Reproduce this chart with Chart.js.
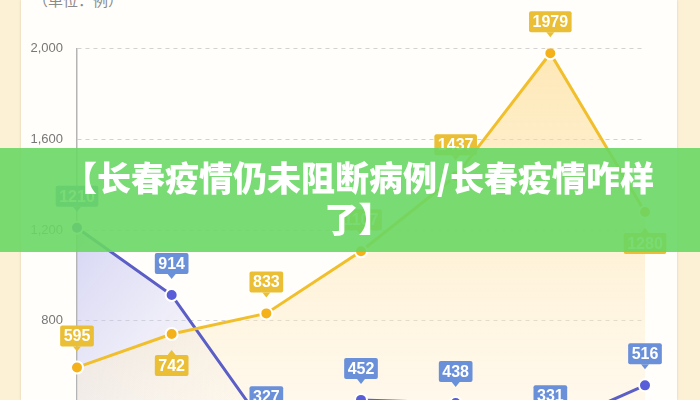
<!DOCTYPE html>
<html>
<head>
<meta charset="utf-8">
<script src="https://cdn.jsdelivr.net/npm/chart.js@4.4.1/dist/chart.umd.min.js"></script>
<style>
html,body{margin:0;padding:0;width:700px;height:400px;overflow:hidden;background:#fcf0d5;}
#panel{position:absolute;left:21px;top:0;width:656px;height:400px;background:#fffefa;box-shadow:0 0 2px rgba(200,175,130,0.6);}
#wrap{position:absolute;left:0;top:0;width:700px;height:540px;}
#unit{position:absolute;left:33px;top:-11px;font-size:15px;font-family:"Noto Sans CJK SC",sans-serif;color:#8a8a8a;}
#banner{position:absolute;left:0;top:148px;width:700px;height:104px;background:rgba(105,215,100,0.9);}
#title{position:absolute;left:0;top:156px;width:717px;text-align:center;color:#fff;font-weight:900;font-size:34px;font-family:"Noto Sans CJK SC",sans-serif;line-height:41px;}
</style>
</head>
<body>
<div id="panel"></div>
<div id="unit">（单位：例）</div>
<div id="wrap"><canvas id="c" width="700" height="540"></canvas></div>
<div id="banner"></div>
<div id="title">【长春疫情仍未阻断病例/长春疫情咋样<br>了】</div>
<script>
const categories = ['第1天', '第2天', '第3天', '第4天', '第5天', '第6天', '第7天'];
const yellowValues = [595, 742, 833, 1107, 1437, 1979, 1280];
const blueValues = [1210, 914, 327, 452, 438, 331, 516];
const yTickStep = 400;
const yMin = 0;
const yMax = 2000;

function roundRect(ctx, x, y, w, h, r) {
  ctx.beginPath();
  ctx.moveTo(x + r, y);
  ctx.lineTo(x + w - r, y);
  ctx.quadraticCurveTo(x + w, y, x + w, y + r);
  ctx.lineTo(x + w, y + h - r);
  ctx.quadraticCurveTo(x + w, y + h, x + w - r, y + h);
  ctx.lineTo(x + r, y + h);
  ctx.quadraticCurveTo(x, y + h, x, y + h - r);
  ctx.lineTo(x, y + r);
  ctx.quadraticCurveTo(x, y, x + r, y);
  ctx.closePath();
}

const calloutPlugin = {
  id: 'callouts',
  afterDatasetsDraw(chart) {
    const ctx = chart.ctx;
    ctx.save();
    chart.data.datasets.forEach((ds, di) => {
      const meta = chart.getDatasetMeta(di);
      meta.data.forEach((pt, i) => {
        const text = String(ds.data[i]);
        const below = (ds.calloutBelow || []).includes(i);
        ctx.font = 'bold 16px "Liberation Sans", Arial, sans-serif';
        const w = ctx.measureText(text).width + 7;
        const h = 21;
        const gap = 21;
        const x = pt.x, y = pt.y;
        const top = below ? y + gap : y - gap - h;
        ctx.fillStyle = ds.calloutColor;
        roundRect(ctx, x - w / 2, top, w, h, 2);
        ctx.fill();
        ctx.beginPath();
        if (below) {
          ctx.moveTo(x - 4, top); ctx.lineTo(x, top - 5); ctx.lineTo(x + 4, top);
        } else {
          ctx.moveTo(x - 4, top + h); ctx.lineTo(x, top + h + 5); ctx.lineTo(x + 4, top + h);
        }
        ctx.closePath();
        ctx.fill();
        ctx.fillStyle = '#ffffff';
        ctx.textAlign = 'center';
        ctx.textBaseline = 'middle';
        ctx.fillText(text, x, top + h / 2 + 1);
      });
    });
    ctx.restore();
  }
};

const yellowFill = (c) => {
  const a = c.chart.chartArea;
  if (!a) return 'rgba(0,0,0,0)';
  const g = c.chart.ctx.createLinearGradient(0, a.top, 0, a.top + 360);
  g.addColorStop(0, 'rgba(252,212,125,0.55)');
  g.addColorStop(1, 'rgba(255,240,210,0.35)');
  return g;
};
const blueFill = (c) => {
  const a = c.chart.chartArea;
  if (!a) return 'rgba(0,0,0,0)';
  const g = c.chart.ctx.createLinearGradient(a.left, a.top + 180, a.left + 220, a.top + 360);
  g.addColorStop(0, 'rgba(185,185,240,0.6)');
  g.addColorStop(1, 'rgba(230,230,250,0)');
  return g;
};

new Chart(document.getElementById('c'), {
  type: 'line',
  data: {
    labels: categories,
    datasets: [
      {
        label: 'yellow',
        data: yellowValues,
        borderColor: '#f2bf2c',
        borderWidth: 3,
        backgroundColor: yellowFill,
        fill: 'origin',
        tension: 0,
        pointRadius: 6,
        pointBorderWidth: 2,
        pointBorderColor: '#ffffff',
        pointBackgroundColor: '#f5b11a',
        calloutColor: '#eabf35',
        calloutBelow: [1, 6]
      },
      {
        label: 'blue',
        data: blueValues,
        borderColor: '#5b5ec6',
        borderWidth: 3,
        backgroundColor: blueFill,
        fill: 'origin',
        tension: 0,
        pointRadius: 6,
        pointBorderWidth: 2,
        pointBorderColor: '#ffffff',
        pointBackgroundColor: '#5a5dd8',
        calloutColor: '#6b90da',
        calloutBelow: []
      }
    ]
  },
  options: {
    responsive: false,
    animation: false,
    events: [],
    layout: { padding: { top: 48.5, right: 55, bottom: 37.5, left: 0 } },
    plugins: {
      legend: { display: false },
      tooltip: { enabled: false },
      filler: { drawTime: 'beforeDatasetsDraw' }
    },
    scales: {
      x: { display: false, offset: false },
      y: {
        min: yMin,
        max: yMax,
        afterFit(s) { s.width = 77; },
        ticks: {
          stepSize: yTickStep,
          padding: 14,
          color: '#777777',
          font: { size: 13, family: '"Liberation Sans", Arial, sans-serif' },
          callback: (v) => v.toLocaleString('en-US')
        },
        grid: { color: '#d2d2d2', drawTicks: false, lineWidth: 1 },
        border: { display: true, color: '#b4b4b4', width: 1.5, dash: [4, 4] }
      }
    }
  },
  plugins: [calloutPlugin]
});
</script>
</body>
</html>
